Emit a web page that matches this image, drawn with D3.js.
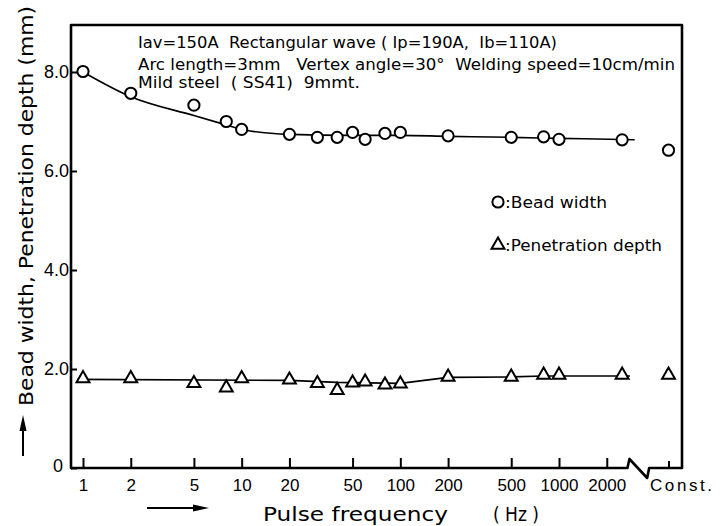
<!DOCTYPE html>
<meta charset="utf-8">
<style>
body{margin:0;background:white;}
svg{display:block;background:white;font-family:"DejaVu Sans",sans-serif;}
.axis text{fill:#000;}
.axis line{stroke:#000;stroke-width:2;}
.axis path{display:none;}
.header{font-size:15.5px;white-space:pre;}
.legend{font-size:16px;}
.mark{fill:white;stroke:#000;stroke-width:2;}
.fit{fill:none;stroke:#000;stroke-width:1.6;}
</style>
<body>
<script src="https://cdn.jsdelivr.net/npm/d3@7"></script>
<script>
// measured points (Hz)
var freqs = [1, 2, 5, 8, 10, 20, 30, 40, 50, 60, 80, 100, 200, 500, 800, 1000, 2500];
var beadWidth = [8.01, 7.57, 7.33, 7.0, 6.84, 6.74, 6.68, 6.68, 6.78, 6.64, 6.76, 6.78, 6.71, 6.68, 6.69, 6.64, 6.63];
var penDepth = [1.81, 1.81, 1.71, 1.62, 1.81, 1.78, 1.71, 1.57, 1.72, 1.74, 1.68, 1.70, 1.84, 1.84, 1.88, 1.88, 1.88];
// constant current (DC) values, drawn past the axis break
var beadConst = 6.42;
var penConst = 1.88;
// hand drawn fit lines
var beadFitF = [1, 2, 5, 8, 10, 20, 50, 100, 200, 500, 1000, 3000];
var beadFitV = [8.0, 7.5, 7.12, 6.93, 6.84, 6.74, 6.72, 6.72, 6.7, 6.68, 6.66, 6.63];
var penFitF = [0.92, 20, 40, 100, 200, 500, 800, 2800];
var penFitV = [1.79, 1.77, 1.73, 1.71, 1.83, 1.84, 1.86, 1.86];

var xTicks = [1, 2, 5, 10, 20, 50, 100, 200, 500, 1000, 2000];
var yTicks = [0, 2, 4, 6, 8];
var CONST_AT = 4900;   // where "Const." sits on the log axis
var BREAK_LO = 2700, BREAK_HI = 3700;

var headerLines = [
  "Iav=150A  Rectangular wave ( Ip=190A,  Ib=110A)",
  "Arc length=3mm   Vertex angle=30°  Welding speed=10cm/min",
  "Mild steel  ( SS41)  9mmt."
];

var margin = {top: 25, right: 38, bottom: 58, left: 71},
    width = 720 - margin.left - margin.right,
    height = 526 - margin.top - margin.bottom;

var svg = d3.select("body").append("svg")
    .attr("width", 720)
    .attr("height", 526);

var g = svg.append("g").attr("transform", "translate(" + margin.left + "," + margin.top + ")");

var x = d3.scaleLog().domain([1, 1000]).range([12, 488]);
var y = d3.scaleLinear().domain([0, 8]).range([height, 47]);

// x axis
var xa = g.append("g").attr("class", "axis")
  .attr("transform", "translate(0," + height + ")")
  .call(d3.axisBottom(x)
    .tickValues(xTicks.concat([CONST_AT]))
    .tickFormat(function(d){ return d === CONST_AT ? "Const." : d; })
    .tickSize(-10).tickSizeOuter(0).tickPadding(11));
xa.selectAll("text").style("font-size", "17px");
xa.selectAll(".tick").filter(function(d){ return d === CONST_AT; })
  .select("text").attr("dx", 12).attr("textLength", 62);
xa.selectAll(".tick").filter(function(d){ return d === CONST_AT; })
  .select("line").attr("y2", -7);

// y axis
var ya = g.append("g").attr("class", "axis")
  .call(d3.axisLeft(y)
    .tickValues(yTicks)
    .tickFormat(function(d){ return d === 0 ? "0" : d3.format(".1f")(d); })
    .tickSize(-6).tickSizeOuter(0).tickPadding(2));
ya.selectAll("text").style("font-size", "18px");
ya.selectAll(".tick").filter(function(d){ return d === 0; }).select("text").attr("dx", -6).attr("dy", "0.2em");

// frame with the axis break
var xl = x(BREAK_LO), xh = x(BREAK_HI);
g.append("path")
  .attr("d", "M0,0H" + width + "V" + height + "H" + xh +
       "L" + (xh - 2) + "," + (height + 10) +
       "L" + (xl + 2) + "," + (height - 9) +
       "L" + xl + "," + height + "H0Z")
  .attr("fill", "none").attr("stroke", "#000").attr("stroke-width", 2.6)
  .attr("stroke-linejoin", "round");

// fit lines
var beadLine = d3.line()
  .x(function(d, i){ return x(beadFitF[i]); })
  .y(function(d){ return y(d); })
  .curve(d3.curveMonotoneX);
g.append("path").attr("class", "fit").attr("d", beadLine(beadFitV));

var penLine = d3.line()
  .x(function(d, i){ return x(penFitF[i]); })
  .y(function(d){ return y(d); });
g.append("path").attr("class", "fit").attr("d", penLine(penFitV));

// points
var beadPts = freqs.map(function(f, i){ return [f, beadWidth[i]]; }).concat([[CONST_AT, beadConst]]);
var penPts = freqs.map(function(f, i){ return [f, penDepth[i]]; }).concat([[CONST_AT, penConst]]);

g.selectAll(".bead").data(beadPts).enter().append("circle")
  .attr("class", "mark bead")
  .attr("cx", function(d){ return x(d[0]); })
  .attr("cy", function(d){ return y(d[1]); })
  .attr("r", 5.6);

var tri = d3.symbol().type(d3.symbolTriangle).size(72);
g.selectAll(".pen").data(penPts).enter().append("path")
  .attr("class", "mark pen")
  .attr("d", tri)
  .attr("transform", function(d){ return "translate(" + x(d[0]) + "," + y(d[1]) + ")"; });

// header notes
var hy = [48, 70, 88], hw = [419, 537, 222];
svg.selectAll(".header").data(headerLines).enter().append("text")
  .attr("class", "header")
  .attr("x", 138)
  .attr("y", function(d, i){ return hy[i]; })
  .attr("textLength", function(d, i){ return hw[i]; })
  .attr("lengthAdjust", "spacingAndGlyphs")
  .text(function(d){ return d; });

// legend
svg.append("circle").attr("class", "mark").attr("cx", 498).attr("cy", 202).attr("r", 5.6);
svg.append("path").attr("class", "mark").attr("d", tri).attr("transform", "translate(498,245)");
svg.append("text").attr("class", "legend").attr("x", 505).attr("y", 208)
  .attr("textLength", 102).attr("lengthAdjust", "spacingAndGlyphs").text(":Bead width");
svg.append("text").attr("class", "legend").attr("x", 505).attr("y", 251)
  .attr("textLength", 157).attr("lengthAdjust", "spacingAndGlyphs").text(":Penetration depth");

// axis titles and arrows
svg.append("text")
  .attr("transform", "rotate(-90)")
  .attr("x", -206).attr("y", 33)
  .attr("text-anchor", "middle")
  .attr("textLength", 400).attr("lengthAdjust", "spacingAndGlyphs")
  .style("font-size", "20px")
  .text("Bead width, Penetration depth (mm)");

svg.append("text").attr("x", 263).attr("y", 521)
  .attr("textLength", 185).attr("lengthAdjust", "spacingAndGlyphs")
  .style("font-size", "20px").text("Pulse frequency");
svg.append("text").attr("x", 493).attr("y", 521)
  .attr("textLength", 46).attr("lengthAdjust", "spacingAndGlyphs")
  .style("font-size", "20px").text("( Hz )");

svg.append("line").attr("x1", 23).attr("x2", 23).attr("y1", 456).attr("y2", 428)
  .attr("stroke", "#000").attr("stroke-width", 2);
svg.append("path").attr("d", "M23,415L19.5,431L26.5,431Z").attr("fill", "#000");
svg.append("line").attr("x1", 147).attr("x2", 196).attr("y1", 508).attr("y2", 508)
  .attr("stroke", "#000").attr("stroke-width", 2);
svg.append("path").attr("d", "M209,508L193,504.5L193,511.5Z").attr("fill", "#000");
</script>
